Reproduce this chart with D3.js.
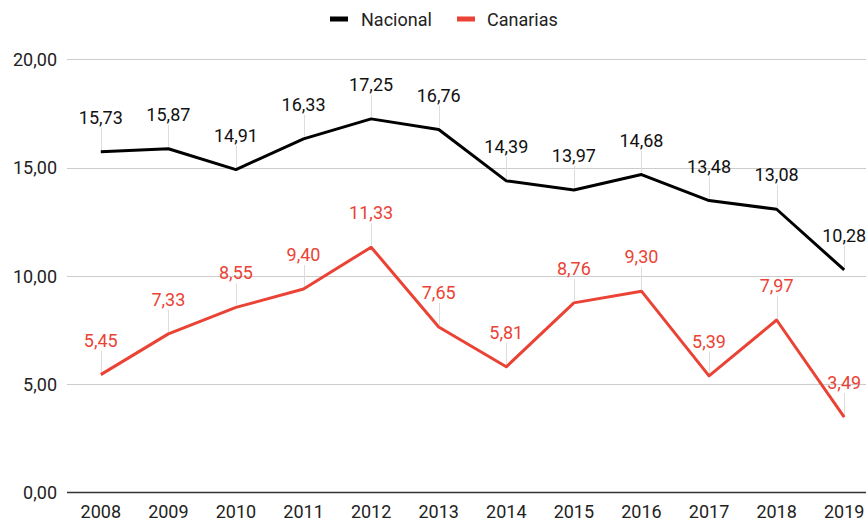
<!DOCTYPE html>
<html>
<head>
<meta charset="utf-8">
<script src="https://cdn.jsdelivr.net/npm/d3@7"></script>
<style>
  html, body { margin: 0; padding: 0; background: #fff; }
  svg { display: block; font-family: Roboto, "Noto Sans", Arial, sans-serif; }
</style>
</head>
<body>
<svg id="chart" width="866" height="520"></svg>
<script>
const years = ["2008","2009","2010","2011","2012","2013","2014","2015","2016","2017","2018","2019"];
const nacional = [15.73, 15.87, 14.91, 16.33, 17.25, 16.76, 14.39, 13.97, 14.68, 13.48, 13.08, 10.28];
const canarias = [5.45, 7.33, 8.55, 9.40, 11.33, 7.65, 5.81, 8.76, 9.30, 5.39, 7.97, 3.49];
const seriesNames = ["Nacional", "Canarias"];
const seriesColors = ["#000000", "#ea4335"];
const yTicks = [0, 5, 10, 15, 20];

const svg = d3.select("#chart");
const W = 866, H = 520;
const x = d3.scaleBand().domain(years).range([67, 878]);
const y = d3.scaleLinear().domain([0, 20]).range([492.7, 59.3]);
const fmt = v => d3.format(".2f")(v).replace(".", ",");

// gridlines
svg.append("g").selectAll("line").data(yTicks.filter(t => t !== 0)).join("line")
  .attr("x1", 67).attr("x2", W)
  .attr("y1", d => Math.round(y(d)) + 0.5).attr("y2", d => Math.round(y(d)) + 0.5)
  .attr("stroke", "#cccccc").attr("stroke-width", 1);

// y axis labels
svg.append("g").selectAll("text").data(yTicks).join("text")
  .attr("x", 57).attr("y", d => y(d) + 6.5)
  .attr("text-anchor", "end").attr("font-size", 18).attr("fill", "#222")
  .text(d => fmt(d));

// baseline
svg.append("line").attr("x1", 67).attr("x2", W)
  .attr("y1", 492.5).attr("y2", 492.5)
  .attr("stroke", "#333").attr("stroke-width", 1.5);

// x axis labels
svg.append("g").selectAll("text").data(years).join("text")
  .attr("x", d => x(d) + x.bandwidth() / 2).attr("y", 518)
  .attr("text-anchor", "middle").attr("font-size", 18).attr("fill", "#222")
  .text(d => d);

const data = [nacional, canarias];
const cx = (i) => x(years[i]) + x.bandwidth() / 2;

// leader lines
data.forEach((vals) => {
  svg.append("g").selectAll("line").data(vals).join("line")
    .attr("x1", (d, i) => Math.round(cx(i)) + 0.5).attr("x2", (d, i) => Math.round(cx(i)) + 0.5)
    .attr("y1", d => y(d) - 2).attr("y2", d => y(d) - 24)
    .attr("stroke", "#dddddd").attr("stroke-width", 1);
});

// lines
const line = d3.line().x((d, i) => cx(i)).y(d => y(d));
data.forEach((vals, k) => {
  svg.append("path").datum(vals)
    .attr("d", line)
    .attr("fill", "none")
    .attr("stroke", seriesColors[k])
    .attr("stroke-width", 3)
    .attr("stroke-linejoin", "round");
});

// data labels
data.forEach((vals, k) => {
  svg.append("g").selectAll("text").data(vals).join("text")
    .attr("x", (d, i) => cx(i)).attr("y", d => y(d) - 28)
    .attr("text-anchor", "middle").attr("font-size", 18)
    .attr("fill", k === 0 ? "#111" : "#ea4335")
    .text(d => fmt(d));
});

// legend
const legendItems = [
  { name: seriesNames[0], color: seriesColors[0], sx: 330, tx: 361 },
  { name: seriesNames[1], color: seriesColors[1], sx: 457, tx: 487 }
];
const lg = svg.append("g");
legendItems.forEach(it => {
  lg.append("rect").attr("x", it.sx).attr("y", 16.5).attr("width", 18).attr("height", 5)
    .attr("fill", it.color);
  lg.append("text").attr("x", it.tx).attr("y", 25.5)
    .attr("font-size", 18).attr("fill", "#222").text(it.name);
});
</script>
</body>
</html>
